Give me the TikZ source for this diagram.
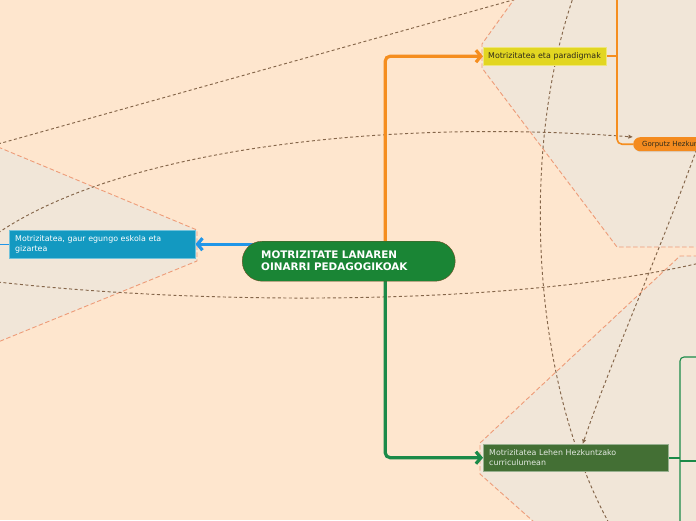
\documentclass[tikz,border=0pt]{standalone}
\usepackage{fontspec}
\setmainfont{DejaVu Sans}
\usetikzlibrary{arrows.meta, shadows}

\definecolor{paper}{HTML}{FEE6CE}
\definecolor{zone}{HTML}{F1E6D8}
\definecolor{zoneedge}{HTML}{EE9C78}
\definecolor{relcol}{HTML}{85664A}
\definecolor{mainfill}{HTML}{1A8535}
\definecolor{mainedge}{HTML}{6B4E22}
\definecolor{bluefill}{HTML}{1399C1}
\definecolor{bluelink}{HTML}{2196E8}
\definecolor{yellowfill}{HTML}{E2D621}
\definecolor{orangelink}{HTML}{F58E1F}
\definecolor{orangefill}{HTML}{F48B1F}
\definecolor{greenlink}{HTML}{1B8A48}
\definecolor{greenfill}{HTML}{436F34}
\definecolor{darktext}{HTML}{2E2A1A}

\pgfdeclarelayer{back}
\pgfdeclarelayer{links}
\pgfsetlayers{back,links,main}

\begin{document}
\begin{tikzpicture}[x=1pt, y=-1pt,
	topic/.style={draw, rectangle, anchor=north west, inner ysep=0pt, align=left, font=\fontsize{7.9}{9.5}\selectfont, drop shadow={shadow xshift=1pt, shadow yshift=-1pt, opacity=.25}},
	zonebox/.style={fill=zone, draw=zoneedge, dash pattern=on 4.5pt off 2.5pt, line width=.9pt},
	relation/.style={draw=relcol, dash pattern=on 3pt off 2.5pt, line width=.95pt},
	reltip/.style={-{Latex[length=4.5pt,width=4.5pt]}},
	branch/.style={line width=3.2pt, rounded corners=5pt, -{Straight Barb[length=5pt,width=12pt]}},
	twig/.style={line width=1.6pt}]
	\useasboundingbox (0,0) rectangle (696,520);

	\node[draw=mainedge, fill=mainfill, rounded corners=20pt, minimum width=213pt, minimum height=40pt, anchor=north west, text width=175pt, inner xsep=19pt, align=left, text=white, font=\bfseries\fontsize{10.4}{12}\selectfont] (main) at (242,241) {MOTRIZITATE LANAREN\\OINARRI PEDAGOGIKOAK};
	\node[topic, draw=bluefill!60!white, fill=bluefill, text=white, text width=174pt, inner xsep=6pt, minimum height=28pt] (society) at (9,230) {Motrizitatea, gaur egungo eskola eta\\gizartea};
	\node[topic, draw=yellowfill!60!white, fill=yellowfill, text=darktext, text width=113pt, inner xsep=5pt, minimum height=18pt] (parad) at (483,47) {Motrizitatea eta paradigmak};
	\node[topic, draw=greenfill!55!white, fill=greenfill, text=white!85!greenfill, text width=173pt, inner xsep=6pt, minimum height=27pt] (curr) at (483,444) {Motrizitatea Lehen Hezkuntzako\\curriculumean};
	\node[fill=orangefill, rounded corners=7pt, anchor=north west, minimum height=14pt, text width=80pt, inner xsep=9pt, inner ysep=0pt, align=left, text=darktext, font=\fontsize{7}{8}\selectfont, drop shadow={shadow xshift=1pt, shadow yshift=-1pt, opacity=.2}] (gorputz) at (633,137) {Gorputz Hezkun};
	\node[circle, fill=greenfill, minimum size=10pt, inner sep=0pt] (leafa) at (701,357) {};
	\node[circle, fill=greenfill, minimum size=10pt, inner sep=0pt] (leafb) at (701,461) {};

	\coordinate (ptop) at (617,-4);
	\coordinate (gbot) at (680,524);
	\coordinate (atop) at (520,-2);
	\coordinate (aleft) at (-2,144);
	\coordinate (bleft) at (-2,233);
	\coordinate (cleft) at (-2,282);
	\coordinate (cright) at (700,263);
	\coordinate (dtop) at (574,-5);
	\coordinate (dbot) at (610,525);
	\coordinate (etop) at (702,134);

	\begin{pgfonlayer}{back}
		\fill[paper] (0,0) rectangle (696,520);
		\filldraw[zonebox] (-2,147) -- (197,230) -- (197,261) -- (-2,342) -- cycle;
		\filldraw[zonebox] (698,-2) -- (515,-2) -- (482,44) -- (482,68) -- (617,247) -- (698,247);
		\filldraw[zonebox] (698,256) -- (680,256) -- (480,443) -- (480,474) -- (534,522) -- (698,522);
	\end{pgfonlayer}

	\begin{pgfonlayer}{links}
		\draw[relation] (aleft) -- (atop);
		\draw[relation, reltip] (bleft) .. controls (120,150) and (380,118) .. (gorputz.north west);
		\draw[relation] (cleft) .. controls (200,305) and (510,307) .. (cright);
		\draw[relation] (dtop) .. controls (520,150) and (530,380) .. (dbot);
		\draw[relation, reltip] (etop) .. controls (665,240) and (615,350) .. ([xshift=7pt]curr.north);

		\draw[branch, bluelink] (main.center |- society.east) -- (society.east);
		\draw[branch, orangelink] ([xshift=36.5pt]main.center) |- (parad.west);
		\draw[branch, greenlink] ([xshift=36.5pt]main.center) |- (curr.west);

		\draw[twig, orangelink] (parad.east) -- (parad.east -| ptop);
		\draw[twig, orangelink, rounded corners=5pt] (ptop) |- (gorputz.west);
		\draw[bluelink, line width=1pt] (society.west) -- ++(-12,0);
		\draw[twig, greenlink] (curr.east) -- (curr.east -| gbot);
		\draw[greenlink, line width=1.1pt, rounded corners=4pt] (gbot) |- (leafa.west);
		\draw[greenlink, line width=1.1pt] (gbot |- leafb.west) -- (leafb.west);
	\end{pgfonlayer}
\end{tikzpicture}
\end{document}
